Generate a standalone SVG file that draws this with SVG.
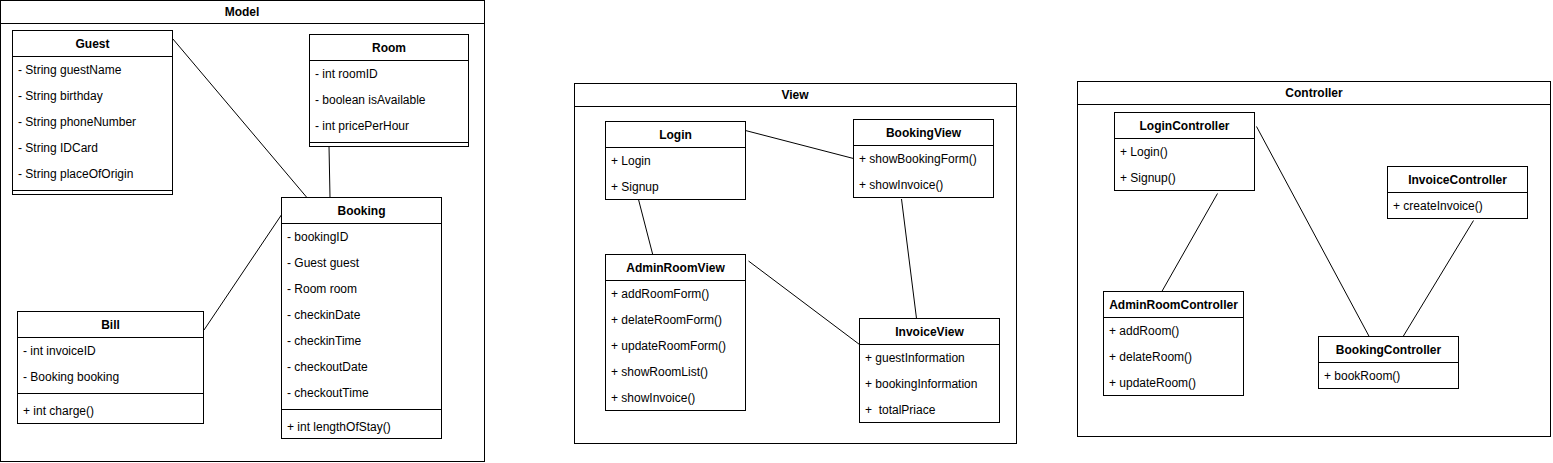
<svg xmlns="http://www.w3.org/2000/svg" width="1553" height="463" viewBox="0 0 1553 463">
<style>
.f{fill:#fff;stroke:#000;stroke-width:1}
.l{stroke:#000;stroke-width:1;fill:none}
text{font-family:"Liberation Sans",Arial,Helvetica,sans-serif;font-size:12px;fill:#000}
.t{font-weight:bold;text-anchor:middle}
.c{stroke:#000;stroke-width:1;fill:none}
</style>
<rect x="0" y="0" width="1553" height="463" fill="#fff"/>

<g id="frame-model">
<rect class="f" x="0.5" y="0.5" width="484" height="461"/>
<line class="l" x1="0.5" y1="23.5" x2="484.5" y2="23.5"/>
<text class="t" x="242" y="16">Model</text>
</g>
<g id="frame-view">
<rect class="f" x="574.5" y="83.5" width="442" height="360"/>
<line class="l" x1="574.5" y1="106.5" x2="1016.5" y2="106.5"/>
<text class="t" x="795" y="99">View</text>
</g>
<g id="frame-controller">
<rect class="f" x="1077.5" y="81.5" width="473" height="355"/>
<line class="l" x1="1077.5" y1="104.5" x2="1550.5" y2="104.5"/>
<text class="t" x="1314" y="97">Controller</text>
</g>

<g id="connectors">
<line class="c" x1="172.5" y1="38.5" x2="309" y2="200"/>
<line class="c" x1="329" y1="146" x2="330" y2="197.5"/>
<line class="c" x1="204" y1="330" x2="282" y2="214"/>
<line class="c" x1="743.5" y1="130" x2="853.5" y2="158.5"/>
<line class="c" x1="638.5" y1="199.5" x2="653.5" y2="257.5"/>
<line class="c" x1="901.5" y1="199" x2="916.5" y2="318.5"/>
<line class="c" x1="748.5" y1="261" x2="859.5" y2="344.5"/>
<line class="c" x1="1217.5" y1="193.5" x2="1161" y2="293"/>
<line class="c" x1="1256.5" y1="126.5" x2="1370.5" y2="339"/>
<line class="c" x1="1473.5" y1="220.5" x2="1402.5" y2="337.5"/>
</g>

<g id="Guest">
<rect class="f" x="12.5" y="30.5" width="160" height="164"/>
<line class="l" x1="12.5" y1="56.5" x2="172.5" y2="56.5"/>
<line class="l" x1="12.5" y1="190.5" x2="172.5" y2="190.5"/>
<text class="t" x="92.5" y="48">Guest</text>
<text x="18" y="74">- String guestName</text>
<text x="18" y="100">- String birthday</text>
<text x="18" y="126">- String phoneNumber</text>
<text x="18" y="152">- String IDCard</text>
<text x="18" y="178">- String placeOfOrigin</text>
</g>

<g id="Room">
<rect class="f" x="309.5" y="34.5" width="159" height="112"/>
<line class="l" x1="309.5" y1="60.5" x2="468.5" y2="60.5"/>
<line class="l" x1="309.5" y1="142.5" x2="468.5" y2="142.5"/>
<text class="t" x="389" y="52">Room</text>
<text x="315" y="78">- int roomID</text>
<text x="315" y="104">- boolean isAvailable</text>
<text x="315" y="130">- int pricePerHour</text>
</g>

<g id="Booking">
<rect class="f" x="281.5" y="197.5" width="160" height="241"/>
<line class="l" x1="281.5" y1="223.5" x2="441.5" y2="223.5"/>
<line class="l" x1="281.5" y1="409.5" x2="441.5" y2="409.5"/>
<text class="t" x="361.5" y="215">Booking</text>
<text x="287" y="241">- bookingID</text>
<text x="287" y="267">- Guest guest</text>
<text x="287" y="293">- Room room</text>
<text x="287" y="319">- checkinDate</text>
<text x="287" y="345">- checkinTime</text>
<text x="287" y="371">- checkoutDate</text>
<text x="287" y="397">- checkoutTime</text>
<text x="287" y="431">+ int lengthOfStay()</text>
</g>

<g id="Bill">
<rect class="f" x="17.5" y="311.5" width="186" height="112"/>
<line class="l" x1="17.5" y1="337.5" x2="203.5" y2="337.5"/>
<line class="l" x1="17.5" y1="393.5" x2="203.5" y2="393.5"/>
<text class="t" x="110.5" y="329">Bill</text>
<text x="23" y="355">- int invoiceID</text>
<text x="23" y="381">- Booking booking</text>
<text x="23" y="415">+ int charge()</text>
</g>

<g id="Login">
<rect class="f" x="605.5" y="121.5" width="140" height="78"/>
<line class="l" x1="605.5" y1="147.5" x2="745.5" y2="147.5"/>
<text class="t" x="675.5" y="139">Login</text>
<text x="611" y="165">+ Login</text>
<text x="611" y="191">+ Signup</text>
</g>

<g id="BookingView">
<rect class="f" x="853.5" y="119.5" width="140" height="78"/>
<line class="l" x1="853.5" y1="145.5" x2="993.5" y2="145.5"/>
<text class="t" x="923.5" y="137">BookingView</text>
<text x="859" y="163">+ showBookingForm()</text>
<text x="859" y="189">+ showInvoice()</text>
</g>

<g id="AdminRoomView">
<rect class="f" x="605.5" y="254.5" width="140" height="156"/>
<line class="l" x1="605.5" y1="280.5" x2="745.5" y2="280.5"/>
<text class="t" x="675.5" y="272">AdminRoomView</text>
<text x="611" y="298">+ addRoomForm()</text>
<text x="611" y="324">+ delateRoomForm()</text>
<text x="611" y="350">+ updateRoomForm()</text>
<text x="611" y="376">+ showRoomList()</text>
<text x="611" y="402">+ showInvoice()</text>
</g>

<g id="InvoiceView">
<rect class="f" x="859.5" y="318.5" width="140" height="104"/>
<line class="l" x1="859.5" y1="344.5" x2="999.5" y2="344.5"/>
<text class="t" x="929.5" y="336">InvoiceView</text>
<text x="865" y="362">+ guestInformation</text>
<text x="865" y="388">+ bookingInformation</text>
<text x="865" y="414" xml:space="preserve">+  totalPriace</text>
</g>

<g id="LoginController">
<rect class="f" x="1114.5" y="112.5" width="140" height="78"/>
<line class="l" x1="1114.5" y1="138.5" x2="1254.5" y2="138.5"/>
<text class="t" x="1184.5" y="130">LoginController</text>
<text x="1120" y="156">+ Login()</text>
<text x="1120" y="182">+ Signup()</text>
</g>

<g id="InvoiceController">
<rect class="f" x="1387.5" y="166.5" width="140" height="52"/>
<line class="l" x1="1387.5" y1="192.5" x2="1527.5" y2="192.5"/>
<text class="t" x="1457.5" y="184">InvoiceController</text>
<text x="1393" y="210">+ createInvoice()</text>
</g>

<g id="AdminRoomController">
<rect class="f" x="1103.5" y="291.5" width="140" height="104"/>
<line class="l" x1="1103.5" y1="317.5" x2="1243.5" y2="317.5"/>
<text class="t" x="1173.5" y="309">AdminRoomController</text>
<text x="1109" y="335">+ addRoom()</text>
<text x="1109" y="361">+ delateRoom()</text>
<text x="1109" y="387">+ updateRoom()</text>
</g>

<g id="BookingController">
<rect class="f" x="1318.5" y="336.5" width="140" height="52"/>
<line class="l" x1="1318.5" y1="362.5" x2="1458.5" y2="362.5"/>
<text class="t" x="1388.5" y="354">BookingController</text>
<text x="1324" y="380">+ bookRoom()</text>
</g>
</svg>
